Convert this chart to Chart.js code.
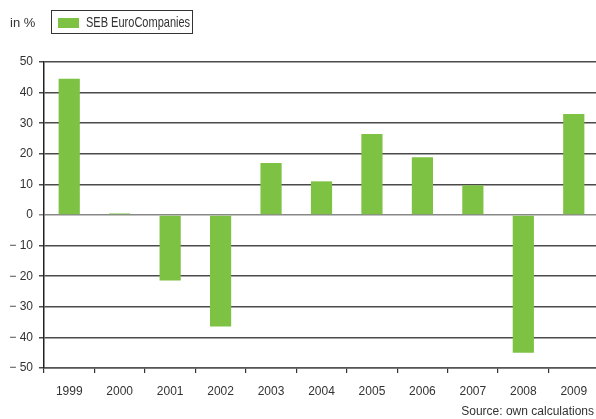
<!DOCTYPE html>
<html>
<head>
<meta charset="utf-8">
<script src="https://cdn.jsdelivr.net/npm/chart.js@4/dist/chart.umd.min.js"></script>
<style>
  html, body { margin: 0; padding: 0; background: #fff; }
  body { width: 596px; height: 419px; overflow: hidden; position: relative;
         font-family: "Liberation Sans", Arial, sans-serif; color: #333; }
  #wrap { position: absolute; left: 0; top: 0; width: 600px; height: 419px; }
  .unit { position: absolute; left: 10px; top: 15px; font-size: 13px; }
  .legend { position: absolute; left: 51px; top: 10px; width: 142px; height: 24px;
            border: 1px solid #333; box-sizing: border-box; }
  .legend .sw { position: absolute; left: 6px; top: 7px; width: 21px; height: 10px; background: #7dc242; }
  .legend .lbl { position: absolute; left: 34px; top: 3px; font-size: 14.5px; white-space: nowrap;
                 transform: scaleX(0.76); transform-origin: left center; }
  .source { position: absolute; right: 2px; top: 404px; font-size: 12px; white-space: nowrap; }
</style>
</head>
<body>
<div id="wrap"><canvas id="grafico" width="600" height="419"></canvas></div>
<div class="unit">in %</div>
<div class="legend"><div class="sw"></div><div class="lbl">SEB EuroCompanies</div></div>
<div class="source">Source: own calculations</div>
<script>
// Datos del gráfico
const years = ['1999', '2000', '2001', '2002', '2003', '2004', '2005', '2006', '2007', '2008', '2009'];
const returns = [44.5, 0.5, -21.4, -36.4, 17.0, 11.0, 26.5, 18.9, 9.7, -45.0, 33.0];
const yTicks = [50, 40, 30, 20, 10, 0, -10, -20, -30, -40, -50];

const fontFamily = '"Liberation Sans", Arial, sans-serif';

new Chart(document.getElementById('grafico'), {
  type: 'bar',
  data: {
    labels: years,
    datasets: [{
      label: 'SEB EuroCompanies',
      data: returns,
      backgroundColor: '#7dc242',
      borderWidth: 0,
      categoryPercentage: 1,
      barPercentage: 0.42
    }]
  },
  options: {
    responsive: false,
    animation: false,
    devicePixelRatio: 1,
    layout: { padding: { left: 0, right: 1, top: 62, bottom: 0 } },
    plugins: { legend: { display: false }, tooltip: { enabled: false } },
    scales: {
      x: {
        offset: true,
        grid: { drawOnChartArea: false, tickLength: 5, color: '#333', lineWidth: 1.2, offset: true },
        border: { display: true, color: '#555', width: 1.5 },
        ticks: { color: '#333', font: { family: fontFamily, size: 12 }, padding: 11, maxRotation: 0, autoSkip: false },
        afterFit: (scale) => { scale.height = 51; }
      },
      y: {
        min: -50,
        max: 50,
        afterBuildTicks: (scale) => { scale.ticks = yTicks.map(v => ({ value: v })); },
        grid: {
          color: (ctx) => ctx.tick && ctx.tick.value === 0 ? '#888' : '#4a4a4a',
          lineWidth: 1.5,
          tickLength: 5
        },
        border: { display: true, color: '#222', width: 1.5 },
        ticks: {
          color: '#333',
          font: { family: fontFamily, size: 12 },
          padding: 6,
          autoSkip: false,
          callback: (v) => v < 0 ? '\u2212 ' + Math.abs(v) : String(v)
        },
        afterFit: (scale) => { scale.width = 44; }
      }
    }
  }
});
</script>
</body>
</html>
